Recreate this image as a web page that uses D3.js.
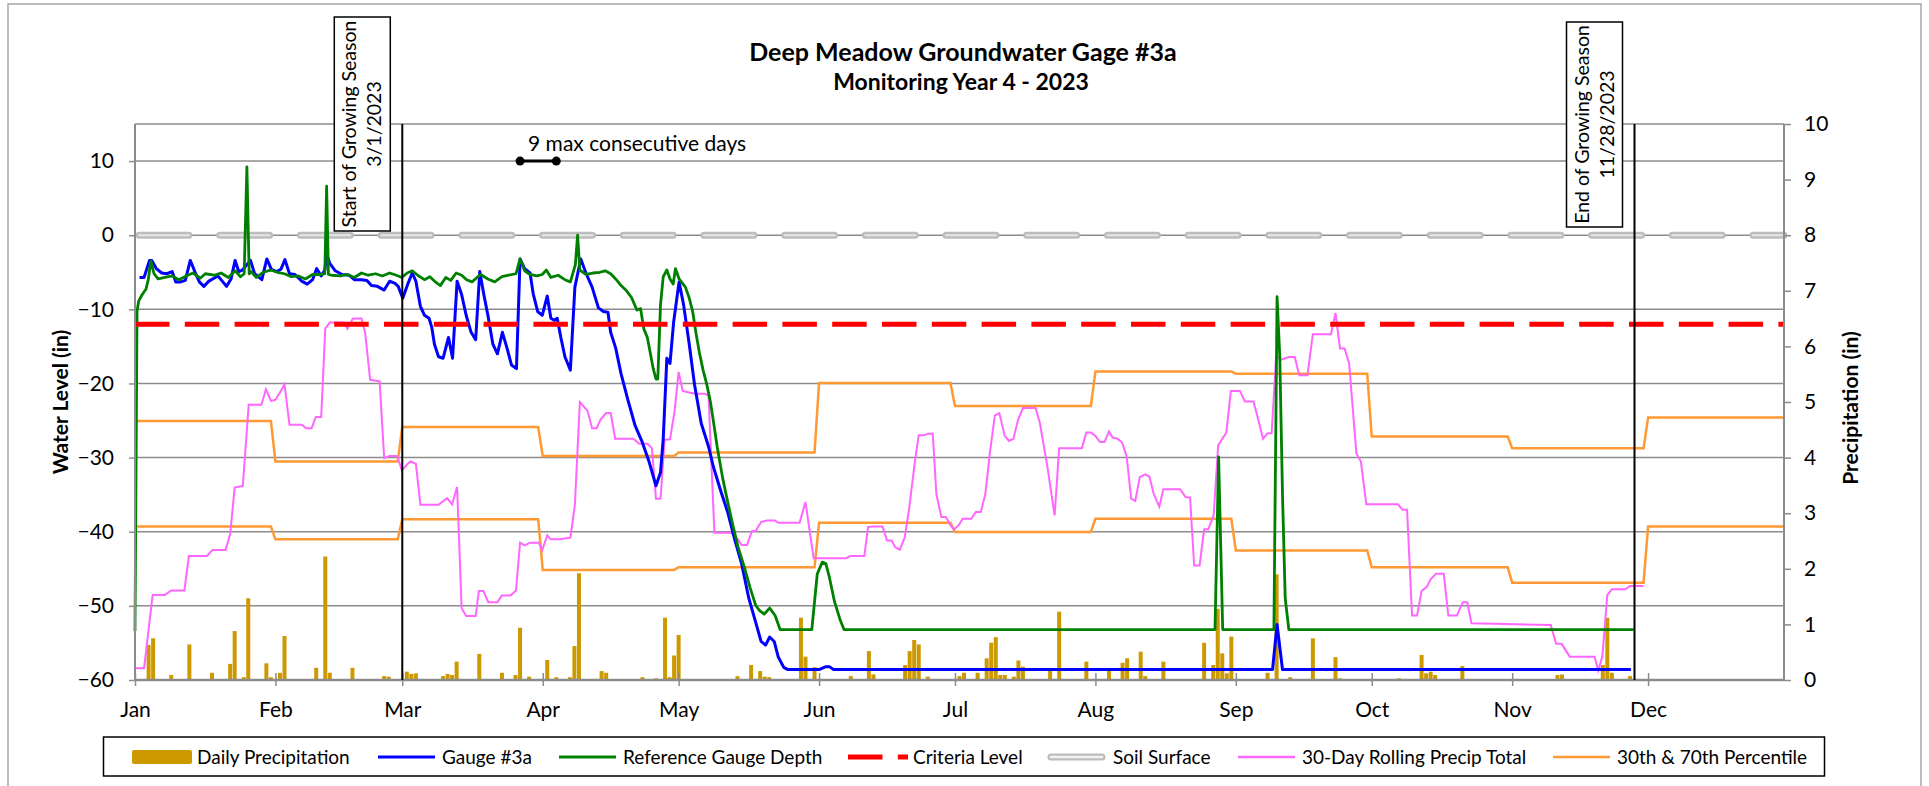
<!DOCTYPE html>
<html>
<head>
<meta charset="utf-8">
<script src="https://cdn.jsdelivr.net/npm/d3@7"></script>
<style>
  body { margin: 0; background: #fff; }
  svg text { font-family: Lato, "Open Sans", sans-serif; fill: #000; }
</style>
</head>
<body>
<div id="chart"></div>
<script>
// ---- data (day of year 2023, 0 = Jan 1) ----
const levelTicks = [10, 0, -10, -20, -30, -40, -50, -60];
const precipTicks = [0, 1, 2, 3, 4, 5, 6, 7, 8, 9, 10];

const criteriaLevel = -12;
const soilSurface = 0;
const seasonStart = 59;   // 3/1/2023
const seasonEnd = 331;    // 11/28/2023
const streakStart = 85;
const streakEnd = 93;

// Gauge #3a water level (in)
const gauge = [
  [1,-5.7],[2,-5.7],[3.2,-3.4],[3.7,-3.4],[4.7,-4.5],[5.9,-5.1],[7,-5.2],[8.2,-4.9],[9,-6.3],[10.1,-6.3],
  [11.1,-6.1],[12.2,-3.4],[13.2,-4.9],[14.2,-6.3],[15.2,-6.9],[16.3,-6.2],[18.3,-5.5],[19.4,-6.3],[20.2,-6.9],
  [21.2,-5.9],[22.1,-3.4],[22.9,-4.9],[23.7,-4.7],[24.4,-4.2],[25.5,-3.4],[26.4,-5.2],[28,-6.0],[29.1,-3.2],
  [30.1,-4.6],[31.3,-4.9],[32.2,-4.6],[33.1,-3.3],[34.1,-5.2],[35.3,-5.3],[36.8,-6.2],[38,-6.6],[39.2,-6.0],
  [40.1,-4.5],[41.1,-5.5],[41.9,-4.7],[42.3,-2.6],[43,-3.8],[44.2,-4.8],[45.7,-5.3],[47.3,-5.4],[48.4,-6.0],
  [50,-6.0],[51.2,-6.1],[52.2,-6.8],[53.5,-6.9],[55,-7.4],[56.2,-6.2],[57.4,-6.5],[58.1,-6.9],[59.1,-8.5],
  [60.2,-6.6],[61.2,-5.1],[62,-6.2],[63,-9.6],[63.9,-10.8],[64.9,-11.2],[65.5,-12.4],[66.1,-14.7],[67,-16.4],
  [68,-16.6],[69.2,-13.8],[70.1,-16.6],[71.1,-6.2],[72.1,-8.0],[73.1,-10.8],[74.2,-13.1],[75.2,-14.1],
  [76.1,-4.9],[77,-8.0],[77.9,-10.8],[79,-14.7],[80,-16.0],[81.1,-13.1],[82.1,-15.2],[83.1,-17.5],[84.2,-18.0],
  [85,-3.2],[86,-4.5],[87.2,-5.1],[87.9,-7.9],[88.9,-10.3],[89.9,-10.8],[91,-8.2],[91.8,-11.2],[92.6,-11.5],
  [93.2,-11.2],[94,-13.8],[94.9,-16.4],[96.1,-18.2],[97.1,-7.0],[98.4,-3.2],[99.6,-5.2],[100.9,-7.0],
  [102.3,-9.8],[103.4,-10.3],[104.4,-10.4],[105,-13.1],[106.1,-15.2],[107.3,-18.7],[108.8,-22.2],[110.4,-25.7],
  [111.9,-27.8],[113.5,-30.6],[115,-33.8],[116,-32.0],[116.6,-27.5],[117.4,-16.6],[118.1,-17.3],[118.9,-11.7],
  [120.1,-6.3],[121.1,-9.4],[122.3,-14.5],[123.5,-20.1],[125,-25.4],[126.6,-28.5],[127.7,-31.3],[129.3,-34.5],
  [130.8,-37.3],[132.4,-41.1],[133.9,-44.3],[135.5,-49.0],[137,-52.2],[138.2,-54.8],[139.2,-55.3],[140.1,-54.2],
  [141.1,-54.8],[142,-56.9],[143.2,-58.3],[144.1,-58.6],[151,-58.6],[152.5,-58.2],[153.3,-58.2],[154.2,-58.6],
  [251.1,-58.6],[252.1,-52.5],[253.3,-58.6],[330.2,-58.6]
];

// Reference gauge depth (in)
const reference = [
  [0,-53.4],[0.45,-10.3],[0.8,-8.9],[1.6,-8.0],[2.4,-7.3],[2.9,-6.1],[3.5,-3.5],[4.2,-5.2],[5.1,-5.9],
  [6.6,-5.7],[8.2,-5.5],[9.7,-6.0],[11.3,-5.5],[12.8,-5.1],[14.4,-5.8],[15.5,-5.2],[17.5,-5.4],[19,-5.1],
  [20.6,-5.7],[22.1,-4.8],[23.3,-5.6],[24.1,-5.2],[24.7,9.2],[25.2,-5.2],[25.6,-4.9],[26.8,-5.7],[28.3,-5.0],
  [29.9,-4.7],[31.4,-5.0],[33,-5.2],[34.5,-5.6],[36.1,-5.5],[37.6,-5.9],[39.2,-5.3],[41.1,-5.3],[41.9,-5.2],
  [42.3,6.6],[42.7,-5.3],[43.4,-5.4],[45.4,-5.5],[46.9,-5.3],[48.4,-5.7],[50,-5.1],[51.5,-5.4],[53.1,-5.2],
  [54.6,-5.5],[56.2,-5.1],[57.7,-5.4],[58.9,-5.7],[60.1,-5.1],[61.2,-4.8],[62.4,-5.4],[63.9,-6.0],[65.1,-5.6],
  [66.3,-6.3],[67.4,-6.8],[68.6,-5.7],[69.7,-6.1],[70.9,-5.1],[72.1,-5.4],[73.2,-6.0],[74.4,-6.3],[75.5,-5.7],
  [76.3,-5.3],[77.9,-5.9],[79.4,-6.3],[81,-5.6],[82.5,-5.4],[84.1,-5.2],[85,-3.2],[86,-4.8],[87.2,-5.3],
  [88.7,-5.5],[89.9,-5.3],[90.8,-4.7],[91.8,-5.7],[93.4,-5.4],[94.9,-6.0],[96.1,-6.3],[97.2,-4.0],[97.7,0.0],
  [98.2,-4.7],[99.6,-5.3],[101.1,-5.1],[102.6,-5.0],[103.8,-4.8],[105,-5.2],[106.1,-5.9],[107.3,-6.8],
  [108.5,-7.5],[109.6,-8.4],[110.8,-10.1],[111.6,-9.9],[112.3,-12.6],[113.1,-13.8],[113.9,-16.4],[114.4,-18.0],
  [115,-19.4],[115.4,-19.4],[116,-9.4],[116.6,-5.6],[117.4,-4.7],[118.1,-5.9],[118.8,-6.6],[119.3,-4.5],
  [120.1,-5.9],[121.5,-7.0],[122.3,-8.4],[123.1,-10.3],[123.8,-13.1],[124.6,-15.9],[125.4,-18.2],[126.2,-20.1],
  [127,-22.4],[127.7,-25.2],[128.5,-28.5],[129.7,-32.7],[130.8,-35.9],[132,-39.2],[133.1,-42.0],[134.7,-45.2],
  [135.8,-47.6],[137,-49.9],[137.8,-50.6],[138.9,-51.1],[140.1,-50.3],[141.3,-51.3],[142.4,-53.2],[149.4,-53.2],
  [150.6,-45.7],[151.7,-44.1],[152.5,-44.3],[153.3,-46.2],[154.4,-49.4],[155.6,-51.8],[156.5,-53.2],
  [238.4,-53.2],[239.2,-29.9],[240.1,-53.2],[251.4,-53.2],[252.1,-8.3],[252.7,-16.4],[253.3,-35],[253.9,-49],
  [254.7,-53.2],[330.8,-53.2]
];

// 30-day rolling precipitation total (in)
const rolling = [
  [0,0.21],[2,0.21],[3.9,1.53],[6.6,1.53],[8,1.61],[10.9,1.61],[11.9,2.23],[15.9,2.23],[17.1,2.34],[20,2.34],
  [21,2.62],[22,3.46],[23.8,3.49],[25.1,4.95],[27.9,4.95],[28.9,5.23],[30,5.02],[31,5.04],[32,5.17],[33,5.32],
  [34.1,4.59],[36.8,4.59],[37.8,4.53],[39,4.53],[39.9,4.73],[41.1,4.73],[42,6.32],[43,6.43],[46.1,6.43],
  [46.9,6.32],[48.1,6.50],[50,6.50],[50.8,6.25],[51.9,5.40],[54,5.37],[55,3.99],[56.2,4.03],[57.9,4.03],
  [58.9,3.77],[60.1,3.88],[60.8,3.93],[62,3.89],[63,3.15],[67,3.15],[68.9,3.27],[70,3.16],[71.1,3.47],
  [72.1,1.29],[73.1,1.15],[75.2,1.15],[75.9,1.60],[76.9,1.60],[78,1.40],[80,1.40],[81,1.52],[82.9,1.52],
  [84.1,1.61],[85,2.47],[86,2.42],[87.2,2.47],[89.1,2.47],[89.9,2.34],[91,2.60],[91.8,2.53],[93.7,2.53],
  [96.1,2.56],[97.1,3.15],[98.2,5.00],[99.9,4.84],[100.9,4.53],[101.9,4.53],[102.8,4.69],[104,4.80],[105,4.80],
  [106,4.34],[110,4.34],[111.3,4.25],[113.1,4.25],[114.1,4.17],[115,3.26],[116,3.26],[116.9,4.32],[118.1,4.33],
  [119.1,4.83],[120,5.54],[120.9,5.20],[123.5,5.15],[125.8,5.15],[126.6,5.11],[127.9,2.65],[131.6,2.65],
  [133.1,2.53],[133.9,2.43],[135.1,2.43],[136.2,2.68],[137,2.68],[138.2,2.84],[139.5,2.87],[141.2,2.87],
  [142,2.83],[146.7,2.83],[148,3.20],[149.8,2.19],[157,2.19],[157.9,2.23],[161,2.23],[161.8,2.75],[162.9,2.76],
  [165,2.76],[166,2.51],[167,2.51],[167.8,2.39],[168.8,2.34],[169.9,2.56],[170.9,3.09],[172.2,3.96],[173,4.40],
  [174.2,4.40],[175,4.43],[176.1,4.43],[176.9,3.34],[178,2.93],[179,2.93],[180,2.78],[180.8,2.71],[181.8,2.78],
  [182.7,2.90],[184.6,2.90],[185.6,3.02],[186.7,3.02],[187.7,3.34],[188.7,4.08],[189.8,4.76],[190.8,4.80],
  [192,4.39],[192.9,4.30],[193.9,4.34],[194.9,4.67],[196,4.89],[198.8,4.89],[199.7,4.64],[201.3,3.89],
  [203,2.96],[204,4.17],[209,4.17],[210,4.45],[211,4.45],[212,4.39],[213,4.28],[214,4.28],[215,4.47],
  [215.8,4.36],[216.9,4.34],[217.9,4.27],[218.9,4.02],[219.9,3.26],[220.8,3.22],[221.8,3.65],[223,3.70],
  [223.9,3.66],[224.9,3.34],[226.1,3.12],[227,3.43],[230.7,3.43],[231.9,3.29],[232.9,3.28],[233.8,2.06],
  [235,2.06],[236,2.71],[236.9,2.71],[238.1,2.96],[239.1,4.22],[240.9,4.45],[241.9,5.20],[243.9,5.20],
  [245,5.01],[246.9,5.01],[247.9,4.70],[249,4.34],[250,4.44],[250.9,4.44],[251.9,5.83],[253,5.76],[254.7,5.81],
  [256,5.81],[257,5.48],[258.8,5.48],[260,6.22],[264,6.22],[265,6.60],[266,5.96],[267,5.96],[268,5.70],
  [268.5,5.20],[269.6,4.08],[270.6,3.93],[271.8,3.16],[278.8,3.16],[279.8,3.06],[280.8,3.06],[281.9,1.16],
  [283,1.16],[284,1.60],[285.1,1.67],[286,1.81],[287.2,1.91],[288.9,1.91],[289.9,1.16],[291.8,1.16],
  [293.1,1.40],[294.1,1.40],[295,1.02],[312.5,0.99],[313.7,0.65],[314.9,0.65],[316.7,0.42],[322.2,0.42],
  [323,0.17],[323.9,0.42],[325,1.53],[326,1.63],[329,1.63],[330,1.69],[333,1.69]
];

// 30th & 70th percentile of monthly precipitation (in), Jan..Dec
const pct70 = [4.66, 3.93, 4.55, 4.03, 4.09, 5.34, 4.93, 5.55, 5.51, 4.38, 4.17, 4.72];
const pct30 = [2.76, 2.53, 2.89, 1.98, 2.03, 2.83, 2.66, 2.90, 2.33, 2.03, 1.75, 2.76];

// Daily precipitation (in)
const dailyPrecip = [
  [3,0.63],[4,0.75],[8,0.09],[12,0.64],[17,0.13],[21,0.29],[22,0.88],[24,0.05],[25,1.47],[29,0.30],[30,0.05],
  [32,0.13],[33,0.79],[40,0.22],[42,2.22],[43,0.13],[48,0.22],[55,0.07],[56,0.06],[60,0.15],[61,0.11],[62,0.12],
  [68,0.07],[69,0.11],[70,0.09],[71,0.33],[76,0.47],[81,0.13],[84,0.09],[85,0.94],[87,0.06],[91,0.36],[93,0.05],
  [96,0.05],[97,0.61],[98,1.92],[103,0.16],[104,0.13],[112,0.05],[115,0.03],[117,1.12],[118,0.05],[119,0.44],
  [120,0.81],[133,0.07],[136,0.27],[138,0.16],[139,0.06],[140,0.05],[147,1.12],[148,0.42],[150,0.23],[158,0.07],
  [162,0.52],[163,0.10],[170,0.27],[171,0.52],[172,0.72],[173,0.64],[175,0.06],[182,0.07],[183,0.13],[186,0.13],
  [188,0.39],[189,0.67],[190,0.77],[191,0.09],[192,0.09],[194,0.06],[195,0.35],[196,0.24],[202,0.18],[204,1.23],
  [210,0.33],[215,0.21],[218,0.31],[219,0.39],[222,0.51],[223,0.07],[227,0.33],[236,0.67],[238,0.27],[239,1.28],
  [240,0.48],[241,0.12],[242,0.78],[250,0.13],[252,1.90],[255,0.05],[260,0.75],[265,0.41],[266,0.03],[279,0.03],
  [284,0.45],[285,0.12],[286,0.15],[287,0.09],[293,0.25],[314,0.09],[315,0.10],[324,0.27],[325,1.12],[326,0.13],
  [330,0.07]
];

// ---- layout ----
const width = 1929, height = 786;
const plot = { left: 135, right: 1784, top: 124, bottom: 680 };
const gridColor = '#8c8c8c';

const t0 = Date.UTC(2023, 0, 1);
const dayToDate = d => new Date(t0 + d * 864e5);

const x = d3.scaleUtc()
    .domain([dayToDate(0), dayToDate(364)])
    .range([plot.left, plot.right]);
const yLevel = d3.scaleLinear().domain([-60, 15]).range([plot.bottom, plot.top]);
const yPrecip = d3.scaleLinear().domain([0, 10]).range([plot.bottom, plot.top]);

const svg = d3.select('#chart')
    .append('svg')
    .attr('width', width)
    .attr('height', height)
    .attr('viewBox', `0 0 ${width} ${height}`);

svg.append('rect').attr('width', width).attr('height', height).attr('fill', '#fff');

// outer chart border
svg.append('rect')
    .attr('x', 8).attr('y', 4)
    .attr('width', 1913).attr('height', 800)
    .attr('fill', 'none')
    .attr('stroke', '#a6a6a6')
    .attr('stroke-width', 1.5);

// title
svg.append('text')
    .attr('x', 963).attr('y', 61)
    .attr('text-anchor', 'middle')
    .attr('font-size', 25).attr('font-weight', 'bold')
    .text('Deep Meadow Groundwater Gage #3a');
svg.append('text')
    .attr('x', 961).attr('y', 90)
    .attr('text-anchor', 'middle')
    .attr('font-size', 23).attr('font-weight', 'bold')
    .text('Monitoring Year 4 - 2023');

// gridlines
svg.append('g')
    .selectAll('line')
    .data(levelTicks)
    .join('line')
    .attr('x1', plot.left).attr('x2', plot.right)
    .attr('y1', d => yLevel(d)).attr('y2', d => yLevel(d))
    .attr('stroke', gridColor)
    .attr('stroke-width', 1.5);

// plot border (top)
svg.append('line')
    .attr('x1', plot.left).attr('x2', plot.right)
    .attr('y1', plot.top).attr('y2', plot.top)
    .attr('stroke', gridColor).attr('stroke-width', 1.5);

// soil surface (double dashed line)
const soilY = yLevel(soilSurface);
svg.append('line')
    .attr('x1', plot.left + 4).attr('x2', plot.right)
    .attr('y1', soilY).attr('y2', soilY)
    .attr('stroke', '#bdbdbd').attr('stroke-width', 7)
    .attr('stroke-linecap', 'round')
    .attr('stroke-dasharray', '50 30.7');
svg.append('line')
    .attr('x1', plot.left + 4).attr('x2', plot.right)
    .attr('y1', soilY).attr('y2', soilY)
    .attr('stroke', '#e6e6e6').attr('stroke-width', 2)
    .attr('stroke-linecap', 'round')
    .attr('stroke-dasharray', '50 30.7');

// daily precipitation bars
svg.append('g')
    .selectAll('rect')
    .data(dailyPrecip)
    .join('rect')
    .attr('x', d => x(dayToDate(d[0])) - 2)
    .attr('width', 4)
    .attr('y', d => yPrecip(d[1]))
    .attr('height', d => plot.bottom - yPrecip(d[1]))
    .attr('fill', '#cc9900');

// percentile step lines (one value per month)
function monthSteps(values) {
    const pts = [];
    values.forEach((v, i) => {
        const start = d3.utcDay.count(new Date(t0), new Date(Date.UTC(2023, i, 1)));
        const end = i < 11 ? d3.utcDay.count(new Date(t0), new Date(Date.UTC(2023, i + 1, 1))) - 1 : 364;
        pts.push([start, v], [end, v]);
    });
    return pts;
}

const precipLine = d3.line()
    .x(d => x(dayToDate(d[0])))
    .y(d => yPrecip(d[1]));
const levelLine = d3.line()
    .x(d => x(dayToDate(d[0])))
    .y(d => yLevel(d[1]));

[pct70, pct30].forEach(vals => {
    svg.append('path')
        .datum(monthSteps(vals))
        .attr('d', precipLine)
        .attr('fill', 'none')
        .attr('stroke', '#ff9933')
        .attr('stroke-width', 2.5);
});

svg.append('path')
    .datum(rolling)
    .attr('d', precipLine)
    .attr('fill', 'none')
    .attr('stroke', '#ff66ff')
    .attr('stroke-width', 2);

svg.append('path')
    .datum(gauge)
    .attr('d', levelLine)
    .attr('fill', 'none')
    .attr('stroke', '#0000ff')
    .attr('stroke-width', 3)
    .attr('stroke-linejoin', 'round');

svg.append('path')
    .datum(reference)
    .attr('d', levelLine)
    .attr('fill', 'none')
    .attr('stroke', '#008000')
    .attr('stroke-width', 2.8)
    .attr('stroke-linejoin', 'round');

// criteria level
svg.append('line')
    .attr('x1', plot.left).attr('x2', plot.right)
    .attr('y1', yLevel(criteriaLevel)).attr('y2', yLevel(criteriaLevel))
    .attr('stroke', '#ff0000')
    .attr('stroke-width', 5)
    .attr('stroke-dasharray', '34.5 15.3');

// axes
const axLeft = svg.append('g')
    .attr('transform', `translate(${plot.left},0)`)
    .call(d3.axisLeft(yLevel).tickValues(levelTicks).tickSize(6).tickPadding(15));
const axRight = svg.append('g')
    .attr('transform', `translate(${plot.right},0)`)
    .call(d3.axisRight(yPrecip).tickValues(precipTicks).tickSize(7).tickPadding(13));
const axBottom = svg.append('g')
    .attr('transform', `translate(0,${plot.bottom})`)
    .call(d3.axisBottom(x).ticks(d3.utcMonth.every(1)).tickFormat(d3.utcFormat('%b')).tickSize(6));

[axLeft, axRight, axBottom].forEach(g => {
    g.select('.domain').attr('stroke', gridColor).attr('stroke-width', 2);
    g.selectAll('.tick line').attr('stroke', gridColor).attr('stroke-width', 1.5);
    g.selectAll('.tick text').attr('font-size', 21).attr('font-family', 'Lato, sans-serif').attr('fill', '#000');
});
axLeft.select('.domain').attr('d', `M0,${plot.top}V${plot.bottom}`);
axRight.select('.domain').attr('d', `M0,${plot.top}V${plot.bottom}`);
axBottom.select('.domain').attr('d', `M${plot.left},0H${plot.right}`).attr('stroke-width', 2.5);
axBottom.selectAll('.tick line').attr('y1', -7).attr('y2', 6);
axBottom.selectAll('.tick text').attr('y', 37).attr('dy', 0);

// axis titles
svg.append('text')
    .attr('transform', `translate(68,${(plot.top + plot.bottom) / 2}) rotate(-90)`)
    .attr('text-anchor', 'middle')
    .attr('font-size', 21).attr('font-weight', 'bold')
    .text('Water Level (in)');
svg.append('text')
    .attr('transform', `translate(1858,${(plot.top + plot.bottom) / 2 + 6}) rotate(-90)`)
    .attr('text-anchor', 'middle')
    .attr('font-size', 21).attr('font-weight', 'bold')
    .text('Precipitation (in)');

// growing season markers
function seasonMarker(day, lines, boxTop, boxBottom) {
    const lx = x(dayToDate(day));
    svg.append('line')
        .attr('x1', lx).attr('x2', lx)
        .attr('y1', plot.top).attr('y2', plot.bottom)
        .attr('stroke', '#000').attr('stroke-width', 2);
    const boxRight = lx - 12, boxW = 56;
    svg.append('rect')
        .attr('x', boxRight - boxW).attr('y', boxTop)
        .attr('width', boxW).attr('height', boxBottom - boxTop)
        .attr('fill', '#fff').attr('stroke', '#000').attr('stroke-width', 1.5);
    const t = svg.append('text')
        .attr('transform', `translate(${boxRight - boxW / 2},${(boxTop + boxBottom) / 2}) rotate(-90)`)
        .attr('text-anchor', 'middle')
        .attr('font-size', 19.5);
    t.append('tspan').attr('x', 0).attr('y', -6).text(lines[0]);
    t.append('tspan').attr('x', 0).attr('y', 19).text(lines[1]);
}
seasonMarker(seasonStart, ['Start of Growing Season', '3/1/2023'], 17, 231);
seasonMarker(seasonEnd, ['End of Growing Season', '11/28/2023'], 22, 227);

// max consecutive days annotation
const sx1 = x(dayToDate(streakStart)), sx2 = x(dayToDate(streakEnd));
svg.append('line')
    .attr('x1', sx1).attr('x2', sx2)
    .attr('y1', yLevel(10)).attr('y2', yLevel(10))
    .attr('stroke', '#000').attr('stroke-width', 3);
svg.selectAll('circle.streak')
    .data([streakStart, streakEnd])
    .join('circle')
    .attr('class', 'streak')
    .attr('cx', d => x(dayToDate(d)))
    .attr('cy', yLevel(10))
    .attr('r', 4.5)
    .attr('fill', '#000');
svg.append('text')
    .attr('x', sx1 + 8).attr('y', yLevel(10) - 10)
    .attr('font-size', 21)
    .text(`${streakEnd - streakStart + 1} max consecutive days`);

// legend
const legend = svg.append('g');
legend.append('rect')
    .attr('x', 103.5).attr('y', 737)
    .attr('width', 1721).attr('height', 39)
    .attr('fill', '#fff').attr('stroke', '#000').attr('stroke-width', 1.5);

const legendItems = [
    { label: 'Daily Precipitation', kind: 'bar', color: '#cc9900', x: 132 },
    { label: 'Gauge #3a', kind: 'line', color: '#0000ff', x: 378 },
    { label: 'Reference Gauge Depth', kind: 'line', color: '#008000', x: 559 },
    { label: 'Criteria Level', kind: 'dash', color: '#ff0000', x: 848 },
    { label: 'Soil Surface', kind: 'soil', color: '#bdbdbd', x: 1048 },
    { label: '30-Day Rolling Precip Total', kind: 'line', color: '#ff66ff', x: 1238 },
    { label: '30th & 70th Percentile', kind: 'line', color: '#ff9933', x: 1553 }
];
const ly = 757;
legendItems.forEach(item => {
    const g = legend.append('g');
    if (item.kind === 'bar') {
        g.append('rect').attr('x', item.x).attr('y', ly - 7).attr('width', 60).attr('height', 14)
            .attr('rx', 2).attr('fill', item.color);
    } else if (item.kind === 'line') {
        g.append('line').attr('x1', item.x).attr('x2', item.x + 57).attr('y1', ly).attr('y2', ly)
            .attr('stroke', item.color).attr('stroke-width', item.color === '#ff66ff' || item.color === '#ff9933' ? 2.5 : 3);
    } else if (item.kind === 'dash') {
        g.append('line').attr('x1', item.x).attr('x2', item.x + 60).attr('y1', ly).attr('y2', ly)
            .attr('stroke', item.color).attr('stroke-width', 5).attr('stroke-dasharray', '34.5 15.3');
    } else {
        g.append('line').attr('x1', item.x + 3).attr('x2', item.x + 54).attr('y1', ly).attr('y2', ly)
            .attr('stroke', item.color).attr('stroke-width', 7).attr('stroke-linecap', 'round');
        g.append('line').attr('x1', item.x + 3).attr('x2', item.x + 54).attr('y1', ly).attr('y2', ly)
            .attr('stroke', '#f2f2f2').attr('stroke-width', 2.5).attr('stroke-linecap', 'round');
    }
    g.append('text')
        .attr('x', item.x + (item.kind === 'line' ? 64 : 65))
        .attr('y', ly + 7)
        .attr('font-size', 19)
        .text(item.label);
});
</script>
</body>
</html>
